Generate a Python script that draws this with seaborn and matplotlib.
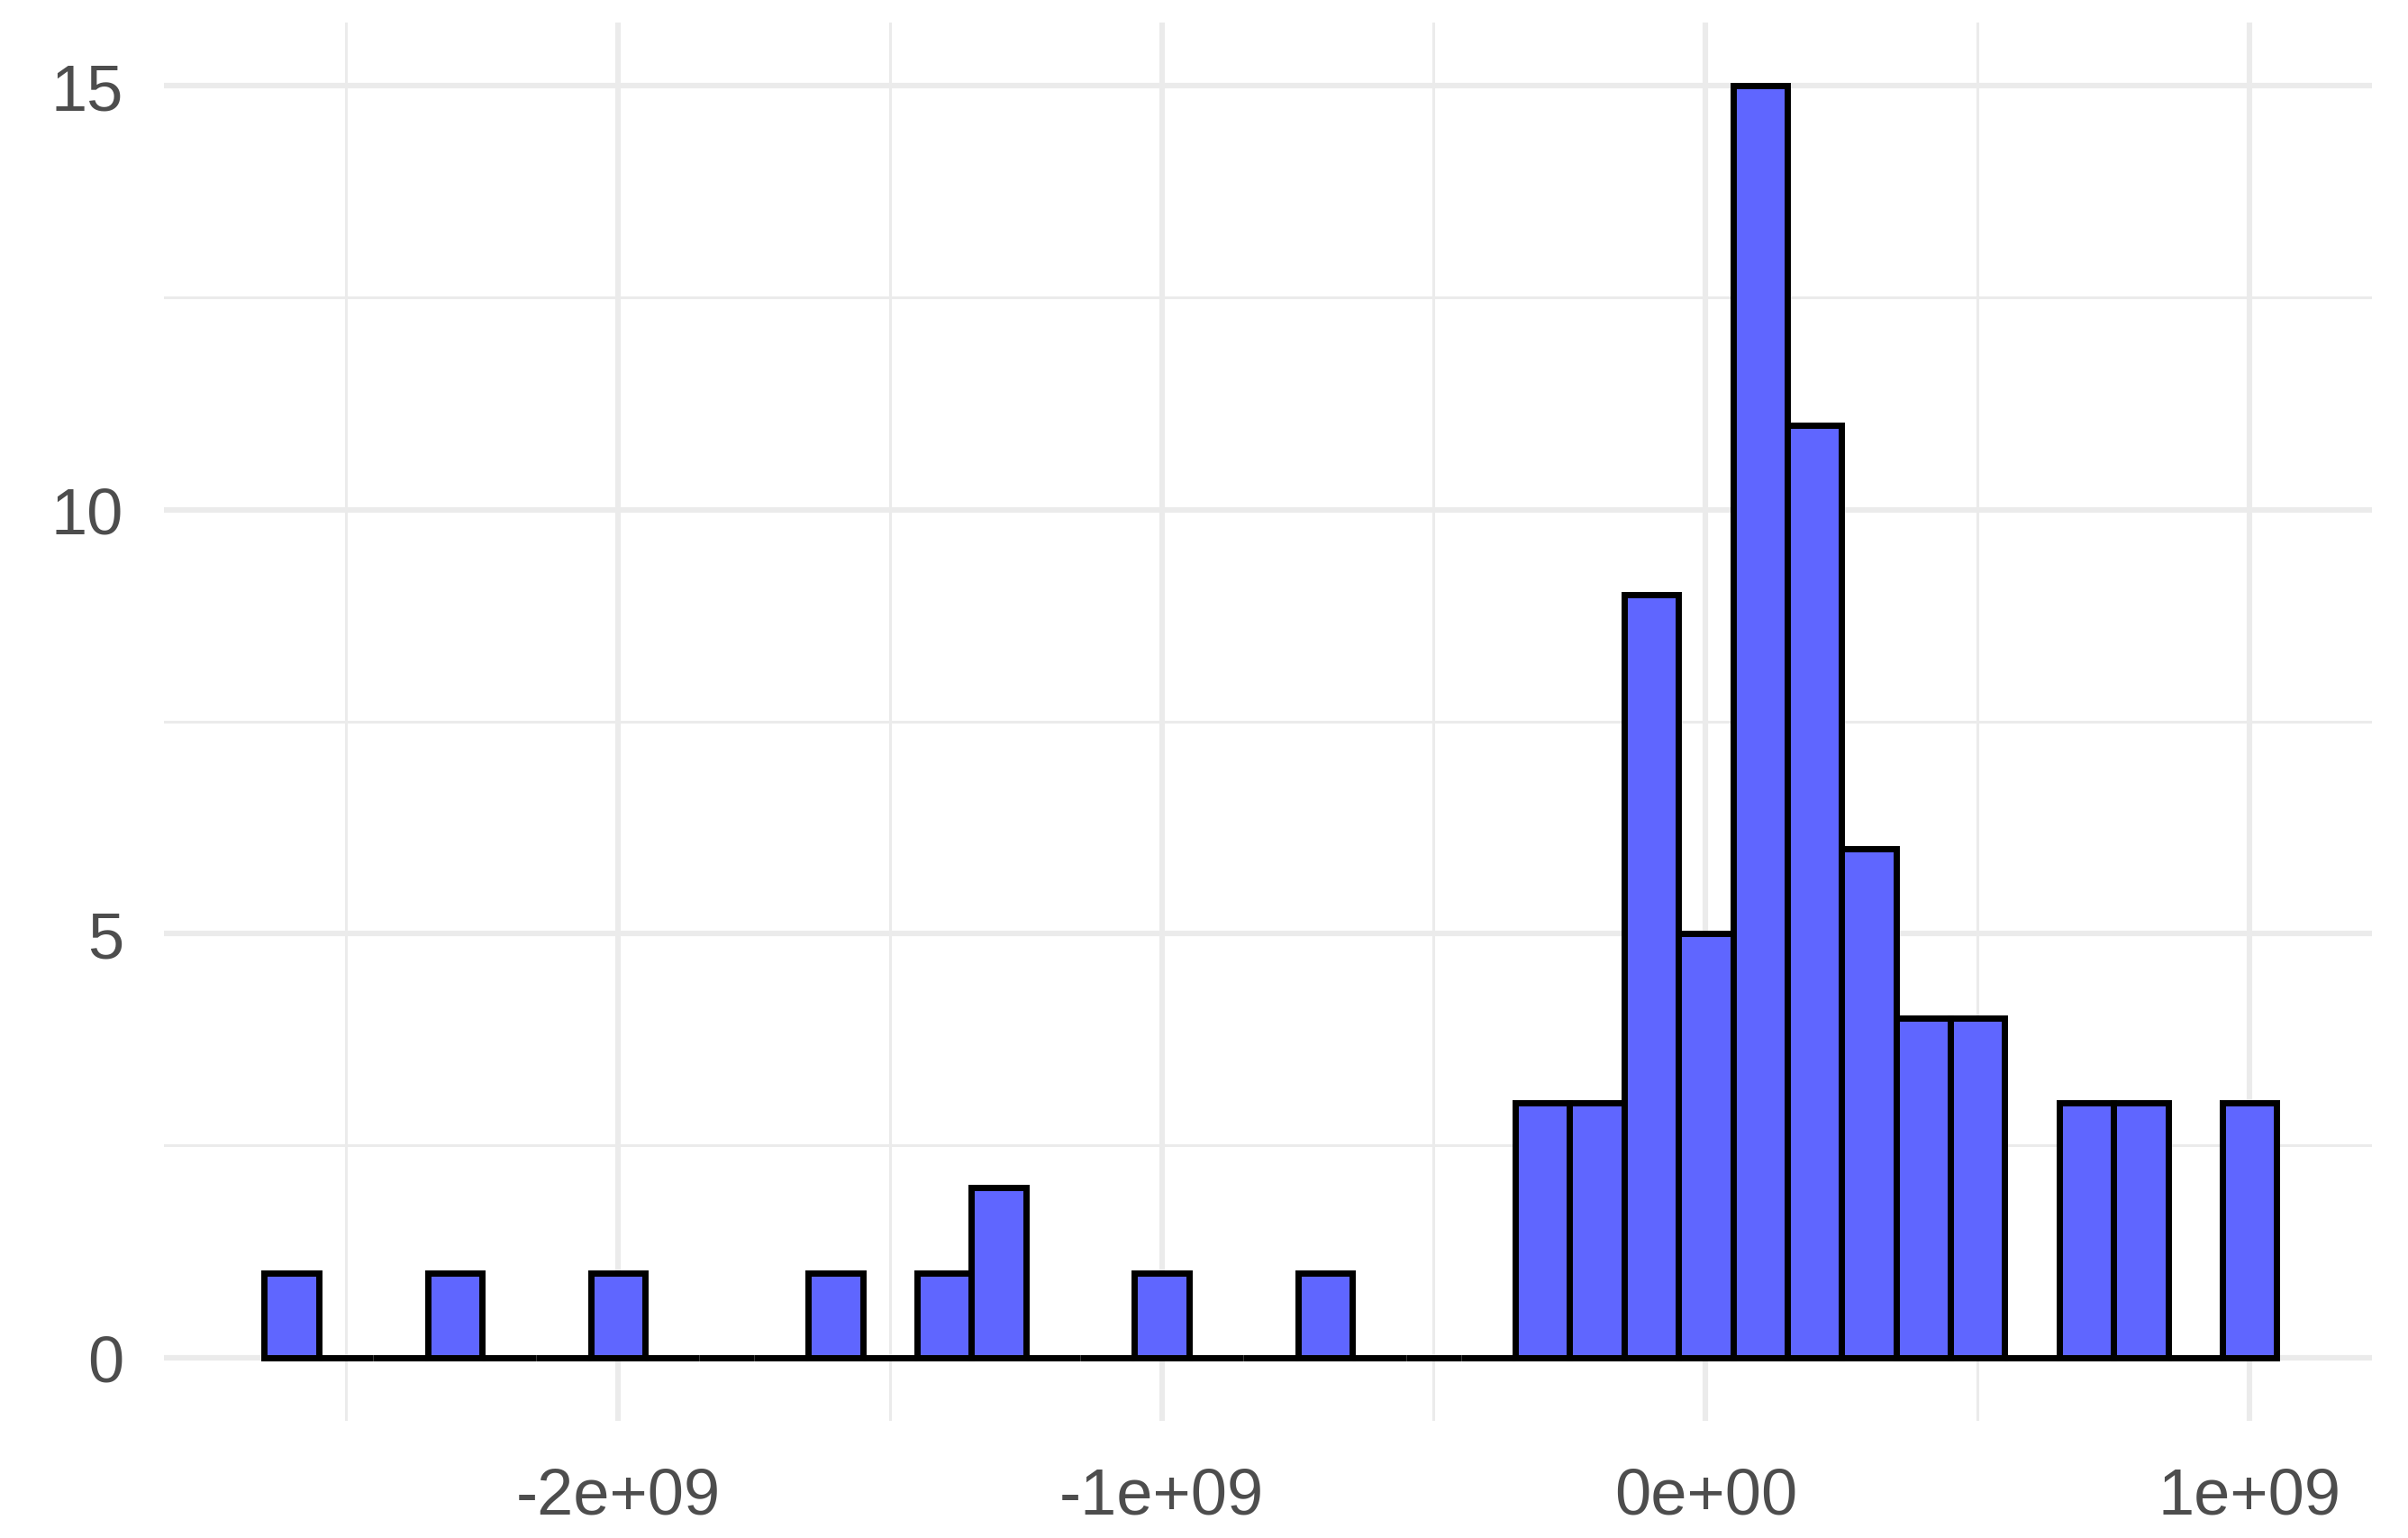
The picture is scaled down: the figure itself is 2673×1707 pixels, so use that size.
import numpy as np
import pandas as pd
import matplotlib
matplotlib.use("Agg")
import matplotlib.pyplot as plt
import seaborn as sns

# Bin centres (x value, 1e9 units) and counts
bin_centers = [-2.6, -2.3, -2.0, -1.6, -1.4, -1.3, -1.0, -0.7,
               -0.3, -0.2, -0.1, 0.0, 0.1, 0.2, 0.3, 0.4, 0.5, 0.7, 0.8, 1.0]
counts = [1, 1, 1, 1, 1, 2, 1, 1,
          3, 3, 9, 5, 15, 11, 6, 4, 4, 3, 3, 3]
x_ticks = [-2e9, -1e9, 0, 1e9]
x_tick_labels = ["-2e+09", "-1e+09", "0e+00", "1e+09"]
y_ticks = [0, 5, 10, 15]
y_tick_labels = ["0", "5", "10", "15"]

df = pd.DataFrame({"value": np.array(bin_centers) * 1e9, "n": counts})

sns.set_theme(style="white")
plt.rcParams["font.family"] = ["Liberation Sans", "DejaVu Sans"]

fig = plt.figure(figsize=(2673 / 200, 1708 / 200), dpi=200)
ax = fig.add_axes([0.068, 0.076, 0.917, 0.909])

sns.histplot(data=df, x="value", weights="n", binwidth=1e8,
             binrange=(-2.65e9, 1.05e9), color="#5F66FF", alpha=1.0,
             edgecolor="black", linewidth=2.5, ax=ax, zorder=3)

ax.set_xlim(-2.835e9, 1.225e9)
ax.set_ylim(-0.75, 15.75)

ax.set_xticks(x_ticks)
ax.set_xticklabels(x_tick_labels)
ax.set_yticks(y_ticks)
ax.set_yticklabels(y_tick_labels)
ax.set_xticks([-2.5e9, -1.5e9, -0.5e9, 0.5e9], minor=True)
ax.set_yticks([2.5, 7.5, 12.5], minor=True)

ax.grid(which="major", color="#EBEBEB", linewidth=2.2, zorder=0)
ax.grid(which="minor", color="#EBEBEB", linewidth=1.1, zorder=0)
ax.set_axisbelow(True)

ax.tick_params(axis="both", which="both", length=0, labelsize=26,
               labelcolor="#4D4D4D")
ax.tick_params(axis="x", pad=18)
ax.tick_params(axis="y", pad=16)
ax.set_xlabel("")
ax.set_ylabel("")
for s in ax.spines.values():
    s.set_visible(False)

fig.savefig("out.png", dpi=200, facecolor="white")
